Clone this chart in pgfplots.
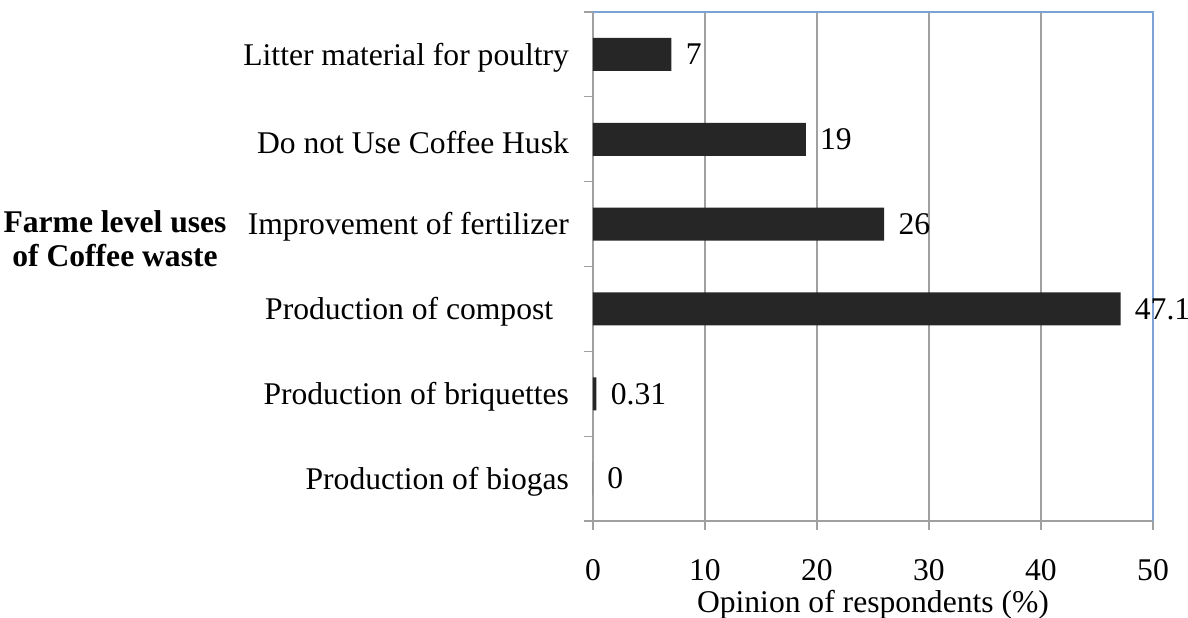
\documentclass[border=0pt]{standalone}
\usepackage{pgfplots}
\pgfplotsset{compat=1.18}
\usepackage{fontspec}
\setmainfont{Liberation Serif}
\definecolor{barc}{RGB}{38,38,38}
\definecolor{gridc}{RGB}{160,160,160}
\definecolor{bordc}{RGB}{125,162,214}
\begin{document}
\begin{tikzpicture}
\begin{axis}[
  at={(0,0)}, anchor=south west,
  scale only axis,
  width=280pt, height=254.5pt,
  xbar, bar width=16.5pt,
  xmin=0, xmax=50,
  ymin=-0.5, ymax=5.5,
  xtick={0,10,20,30,40,50},
  ytick={0,1,2,3,4,5},
  yticklabels={Production of biogas,Production of briquettes,Production of compost\phantom{x},Improvement of fertilizer,Do not Use Coffee Husk,Litter material for poultry},
  minor ytick={-0.5,0.5,1.5,2.5,3.5,4.5,5.5},
  major y tick style={draw=none},
  tick align=outside,
  major tick length=4.5pt, minor tick length=4.5pt,
  tick style={gridc, line width=0.6pt},
  xmajorgrids, grid style={gridc, line width=0.6pt},
  axis x line*=bottom, axis y line*=left,
  axis line style={gridc, line width=0.6pt, -},
  separate axis lines,
  font=\fontsize{15.8}{19}\selectfont,
  /pgf/number format/assume math mode=true,
  xticklabel style={yshift=-11pt},
  yticklabel style={xshift=-4pt, yshift=-1.5pt},
  xlabel={Opinion of respondents (\%)},
  xlabel style={yshift=2pt},
  nodes near coords,
  point meta=explicit symbolic,
  every node near coord/.append style={anchor=west, inner sep=0pt, xshift=7pt, black, font=\fontsize{15.8}{19}\selectfont},
  clip=false,
]
\addplot[fill=barc, draw=none] coordinates {
  (0,0) [0]
  (0.31,1) [0.31]
  (47.1,2) [47.1]
  (26,3) [26]
  (19,4) [19]
  (7,5) [7]
};
\draw[bordc, line width=0.7pt] (rel axis cs:0,1) -- (rel axis cs:1,1) -- (rel axis cs:1,0);
\end{axis}
\node[font=\fontsize{15.8}{17}\selectfont\bfseries, align=center] at (-239pt,141pt) {Farme level uses\\of Coffee waste};
\pgfresetboundingbox
\path[use as bounding box] (-296.5pt,-48pt) rectangle (297.5pt,260.5pt);
\end{tikzpicture}
\end{document}
